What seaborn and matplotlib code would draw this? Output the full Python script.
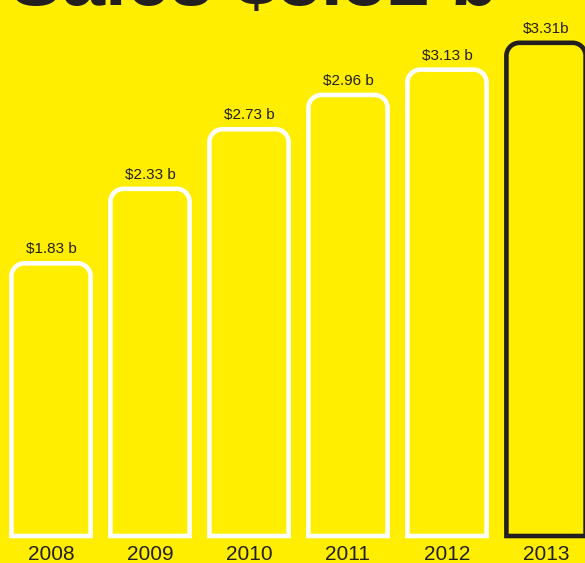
import matplotlib
matplotlib.use("Agg")
import matplotlib.pyplot as plt
from matplotlib.path import Path
from matplotlib.patches import PathPatch
import seaborn as sns
import pandas as pd

# Annual sales, billions of dollars
years = ["2008", "2009", "2010", "2011", "2012", "2013"]
sales = [1.83, 2.33, 2.73, 2.96, 3.13, 3.31]
value_labels = ["$1.83 b", "$2.33 b", "$2.73 b", "$2.96 b", "$3.13 b", "$3.31b"]
title = "Sales $3.31 b"

YELLOW = "#FFEE00"
INK = "#231F20"
WHITE = "#FFFFFF"
edge_colors = [WHITE] * 5 + [INK]

sns.set_theme(style="white")
plt.rcParams["font.family"] = ["Liberation Sans", "DejaVu Sans"]

W, H = 585, 563
fig = plt.figure(figsize=(W / 100, H / 100), dpi=100, facecolor=YELLOW)
ax = fig.add_axes([0, 27 / H, 1, 536 / H])
ax.set_facecolor(YELLOW)

df = pd.DataFrame({"year": years, "sales": sales})
sns.barplot(data=df, x="year", y="sales", width=0.80, color=YELLOW,
            saturation=1, edgecolor=WHITE, linewidth=0, ax=ax)

px_per_unit = 149.0
xlim = (-51 / 99, (W - 51) / 99)
ylim = (0, 536 / px_per_unit)
ax.set_xlim(*xlim)
ax.set_ylim(*ylim)

# Replace the plain rectangles by bars with rounded top corners
radius_px = 13
rx = radius_px * (xlim[1] - xlim[0]) / W
ry = radius_px / px_per_unit
k = 0.5523
bars = list(ax.patches)
for bar, ec in zip(bars, edge_colors):
    x0 = bar.get_x()
    x1 = x0 + bar.get_width()
    h = bar.get_height()
    verts = [
        (x0, 0), (x0, h - ry),
        (x0, h - ry + k * ry), (x0 + rx - k * rx, h), (x0 + rx, h),
        (x1 - rx, h),
        (x1 - rx + k * rx, h), (x1, h - ry + k * ry), (x1, h - ry),
        (x1, 0), (x0, 0),
    ]
    codes = [Path.MOVETO, Path.LINETO,
             Path.CURVE4, Path.CURVE4, Path.CURVE4,
             Path.LINETO,
             Path.CURVE4, Path.CURVE4, Path.CURVE4,
             Path.LINETO, Path.CLOSEPOLY]
    bar.remove()
    ax.add_patch(PathPatch(Path(verts, codes), facecolor=YELLOW, edgecolor=ec,
                           linewidth=3.3, joinstyle="miter", clip_on=False))

for i, (v, lab) in enumerate(zip(sales, value_labels)):
    ax.annotate(lab, (i, v), xytext=(0, 10), textcoords="offset points",
                ha="center", va="center", fontsize=11, color=INK,
                family=["Liberation Sans Narrow", "Liberation Sans", "DejaVu Sans"])

ax.tick_params(axis="x", length=0, pad=6.5, labelsize=15, labelcolor=INK)
ax.tick_params(axis="y", left=False, labelleft=False)
ax.set_xlabel("")
ax.set_ylabel("")
for s in ax.spines.values():
    s.set_visible(False)

# Headline runs off the top edge of the graphic
fig.text(10 / W, 1 - 5 / H, title, fontsize=56, fontweight="bold", color=INK,
         ha="left", va="baseline")

fig.savefig("out.png", dpi=100, facecolor=YELLOW)
